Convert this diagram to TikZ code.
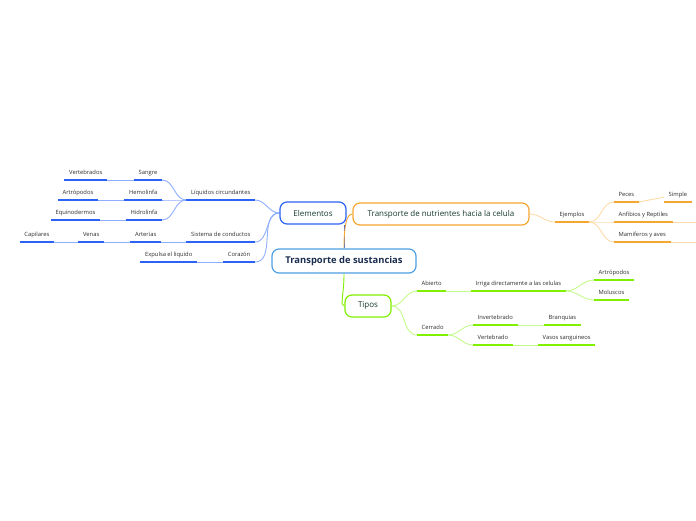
\documentclass[tikz,border=0pt]{standalone}
\usepackage{fontspec}
\setmainfont{Open Sans}
\usetikzlibrary{positioning,backgrounds}
\definecolor{azul}{HTML}{2C62F5}
\definecolor{azulc}{HTML}{8FAEFF}
\definecolor{naranja}{HTML}{F7A632}
\definecolor{naranjac}{HTML}{FDDCAA}
\definecolor{verde}{HTML}{80F000}
\definecolor{verdec}{HTML}{C4FA8C}
\definecolor{celeste}{HTML}{4E9FE3}
\definecolor{navy}{HTML}{1B2D4F}
\definecolor{pino}{HTML}{163A30}
\definecolor{tinta}{HTML}{2B2B2B}

\begin{document}
\begin{tikzpicture}[x=1pt,y=-1pt,line cap=butt,
    caja/.style={draw,rounded corners=7pt,line width=1.2pt,fill=white,minimum height=22pt,
      inner sep=2pt,font=\fontsize{8}{9.5}\selectfont,text=pino},
    hoja/.style={inner xsep=4.5pt,inner ysep=4.5pt,text height=4.4pt,text depth=1.3pt,
      font=\fontsize{5.8}{6.8}\selectfont,text=tinta},
    hojaI/.style={hoja,anchor=south east},
    hojaD/.style={hoja,anchor=south west},
    raya/.style={line width=1.8pt},
    rama/.style={line width=0.9pt}]
  \useasboundingbox (0,0) rectangle (696,520);

  \node[caja,draw=celeste,minimum width=144pt,minimum height=24pt,text=navy,
    font=\fontsize{9.4}{11}\selectfont\bfseries] (main) at (344,261) {Transporte de sustancias};
  \node[caja,draw=azul,minimum width=66pt] (ele) at (313,213) {Elementos};
  \node[caja,draw=naranja,minimum width=176pt] (nut) at (441,214) {Transporte de nutrientes hacia la celula};
  \node[caja,draw=verde,minimum width=46pt] (tip) at (368,306) {Tipos};

  \foreach \n/\x/\y/\t in {liq/255/200/Líquidos circundantes, sis/255/242/Sistema de conductos,
      cor/255/262/Corazón, exp/197/262/Expulsa el liquido,
      san/162/180/Sangre, ver/107/180/Vertebrados, hem/162/200/Hemolinfa, art/98/200/Artrópodos,
      hid/162/220/Hidrolinfa, equ/100/220/Equinodermos,
      arte/161/242/Arterias, ven/104/242/Venas, cap/54/242/Capilares}{
    \node[hojaI] (\n) at (\x,\y) {\t};
    \draw[raya,azul] (\n.south west) -- (\n.south east);
  }
  \foreach \n/\x/\y/\t in {eje/555/222/Ejemplos, pec/614/202/Peces, sim/664/202/Simple,
      anf/614/222/Anfibios y Reptiles, mam/614/242/Mamiferos y aves}{
    \node[hojaD] (\n) at (\x,\y) {\t};
    \draw[raya,naranja] (\n.south west) -- (\n.south east);
  }
  \foreach \n/\x/\y/\t in {abi/417/291/Abierto, irr/471/291/Irriga directamente a las celulas,
      art2/594/280/Artrópodos, mol/594/300/Moluscos, cer/417/335/Cerrado,
      inv/473/325/Invertebrado, bra/544/325/Branquias,
      vert/473/345/Vertebrado, vas/538/345/Vasos sanguineos}{
    \node[hojaD] (\n) at (\x,\y) {\t};
    \draw[raya,verde] (\n.south west) -- (\n.south east);
  }
  \coordinate (finA) at (696,222);
  \coordinate (finM) at (696,242);

  \begin{scope}[on background layer]
    \draw[rama,azul] (main.north) -- (main.north |- ele.south);
    \draw[rama,naranja] (main.north) .. controls +(0,-22) and +(-6,0) .. (nut.west);
    \draw[rama,verde] (main.south) .. controls +(0,22) and +(-5,0) .. (tip.west);
    \foreach \b in {liq,sis,cor}
      \draw[rama,azulc] (ele.west) to[out=180,in=0] (\b.south east);
    \foreach \b in {san,hem,hid}
      \draw[rama,azulc] (liq.south west) to[out=180,in=0] (\b.south east);
    \foreach \a/\b in {san/ver,hem/art,hid/equ,sis/arte,arte/ven,ven/cap,cor/exp}
      \draw[rama,azulc] (\a.south west) -- (\b.south east);
    \draw[rama,naranjac] (nut.east) to[out=0,in=180] (eje.south west);
    \foreach \b in {pec,anf,mam}
      \draw[rama,naranjac] (eje.south east) to[out=0,in=180] (\b.south west);
    \foreach \a/\b in {pec/sim,anf/finA,mam/finM}
      \draw[rama,naranjac] (\a.south east) -- (\b);
    \foreach \b in {abi,cer}
      \draw[rama,verdec] (tip.east) to[out=0,in=180] (\b.south west);
    \foreach \b in {art2,mol}
      \draw[rama,verdec] (irr.south east) to[out=0,in=180] (\b.south west);
    \foreach \b in {inv,vert}
      \draw[rama,verdec] (cer.south east) to[out=0,in=180] (\b.south west);
    \foreach \a/\b in {abi/irr,inv/bra,vert/vas}
      \draw[rama,verdec] (\a.south east) -- (\b.south west);
  \end{scope}
\end{tikzpicture}
\end{document}
